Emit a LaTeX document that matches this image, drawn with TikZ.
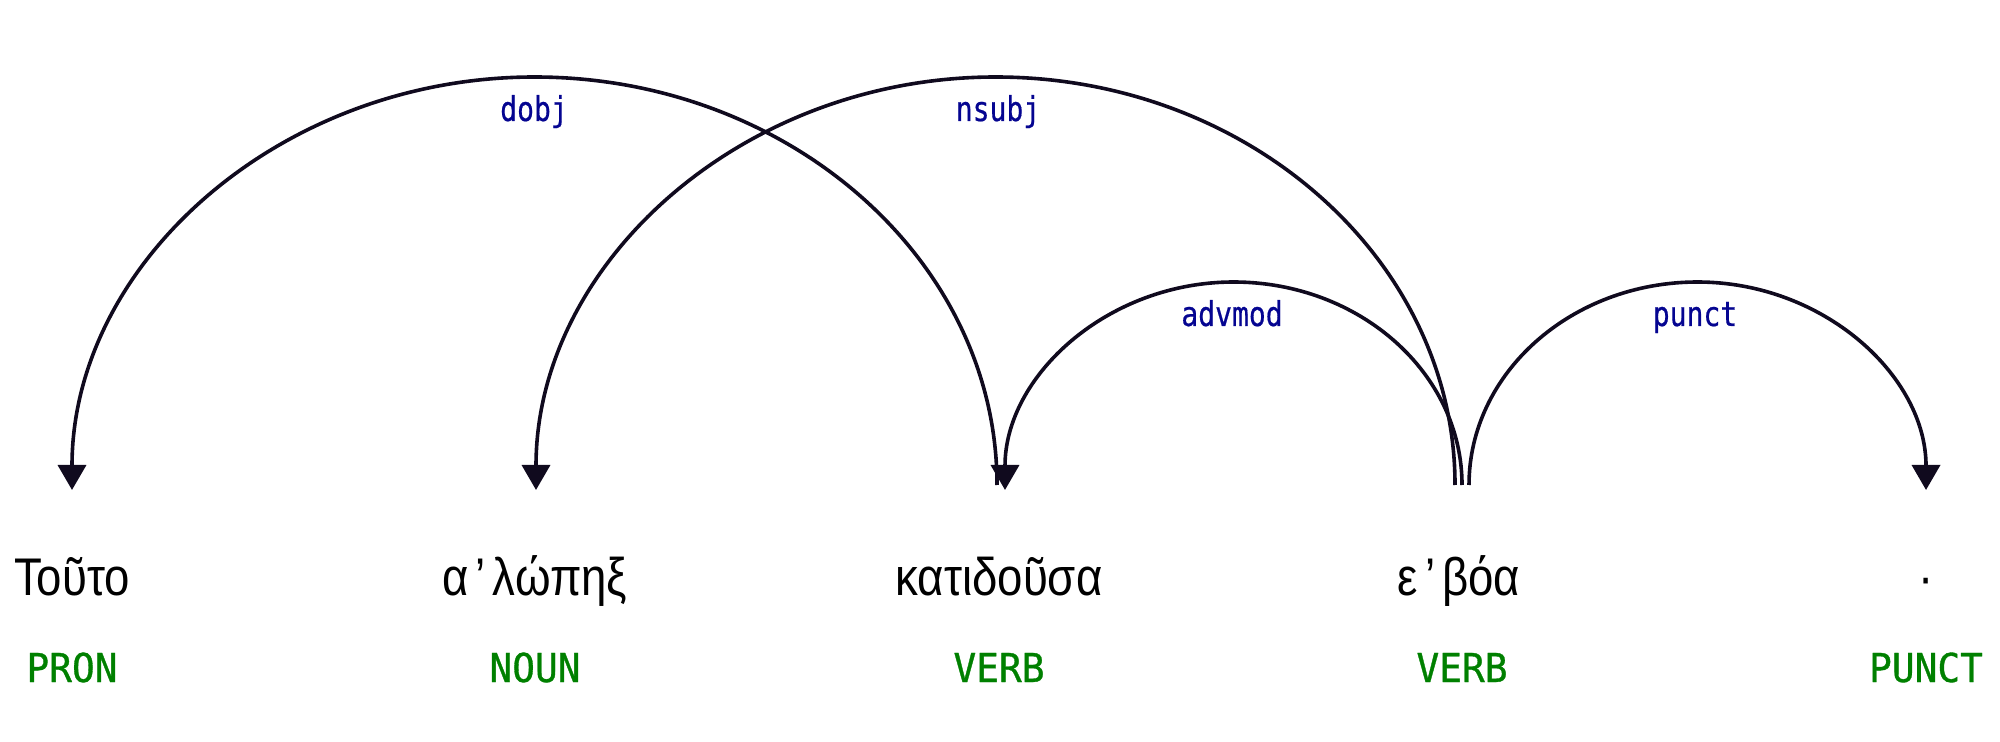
\documentclass[tikz,border=0pt]{standalone}
\usepackage{fontspec}
\usetikzlibrary{arrows.meta}
\newfontfamily\wordfont[FakeStretch=0.86]{Liberation Sans}
\newfontfamily\posfont[FakeStretch=0.95,FakeBold=0.8]{DejaVu Sans Mono}
\newfontfamily\lblfont[FakeStretch=0.82,FakeBold=0.5]{DejaVu Sans Mono}
\definecolor{posgreen}{RGB}{0,128,0}
\definecolor{lblblue}{RGB}{5,5,145}
\definecolor{arcink}{RGB}{16,10,30}
\newcommand{\apos}{\hspace{0.13em}’\hspace{0.13em}}
\tikzset{
  word/.style={anchor=base, inner sep=0pt, font=\wordfont\fontsize{26.5pt}{30pt}\selectfont},
  postag/.style={anchor=base, inner sep=0pt, text=posgreen, font=\posfont\fontsize{19.9pt}{22pt}\selectfont},
  deplabel/.style={anchor=base, inner sep=0pt, text=lblblue, font=\lblfont\fontsize{17.1pt}{20pt}\selectfont},
  deparc/.style={draw=arcink, line width=1.8pt, -{Triangle[width=14pt,length=12.5pt]}},
}
\begin{document}
\begin{tikzpicture}[x=0.5pt,y=-0.5pt]
\useasboundingbox (0,0) rectangle (2000,742);
% words
\node[word] (w1) at (72,595) {Τοῦτο};
\node[word] (w2) at (535,595) {α\apos λώπηξ};
\node[word] (w3) at (999,595) {κατιδοῦσα};
\node[word] (w4) at (1459,595) {ε\apos βόα};
\node[word] (w5) at (1926,595) {·};
% POS tags
\node[postag] (p1) at (72,682) {PRON};
\node[postag] (p2) at (535,682) {NOUN};
\node[postag] (p3) at (999,682) {VERB};
\node[postag] (p4) at (1462,682) {VERB};
\node[postag] (p5) at (1926,682) {PUNCT};
% arc end points
\coordinate (dobjS) at (997,485);
\coordinate (dobjE) at (72,490);
\coordinate (dobjT) at (534.5,77);
\coordinate (nsubjS) at (1455,485);
\coordinate (nsubjE) at (536,490);
\coordinate (nsubjT) at (995.5,77);
\coordinate (advS) at (1462,485);
\coordinate (advE) at (1005,490);
\coordinate (advT) at (1233.5,282);
\coordinate (punS) at (1469,485);
\coordinate (punE) at (1926,490);
\coordinate (punT) at (1697.5,282);
% arcs
\draw[deparc] (dobjS) .. controls +(0,-225) and +(254,0) .. (dobjT)
  .. controls +(-254,0) and +(0,-227) .. (dobjE);
\draw[deparc] (nsubjS) .. controls +(0,-225) and +(253,0) .. (nsubjT)
  .. controls +(-253,0) and +(0,-227) .. (nsubjE);
\draw[deparc] (advS) .. controls +(0,-112) and +(126,0) .. (advT)
  .. controls +(-126,0) and +(0,-114) .. (advE);
\draw[deparc] (punS) .. controls +(0,-112) and +(-126,0) .. (punT)
  .. controls +(126,0) and +(0,-114) .. (punE);
% labels
\node[deplabel] (l1) at (534,121) {dobj};
\node[deplabel] (l2) at (998,121) {nsubj};
\node[deplabel] (l3) at (1232,326) {advmod};
\node[deplabel] (l4) at (1695,326) {punct};
\end{tikzpicture}
\end{document}
